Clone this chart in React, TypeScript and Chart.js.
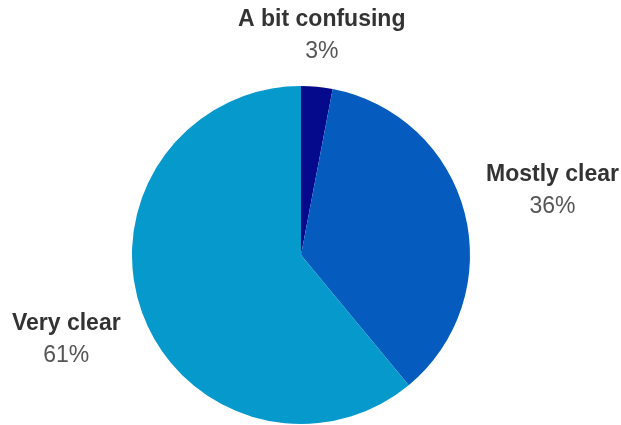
import React, { useEffect, useRef } from "react";
import { Chart, registerables } from "chart.js";

Chart.register(...registerables);

const labels = ["A bit confusing", "Mostly clear", "Very clear"];
const values = [3, 36, 61];
const colors = ["#050A8C", "#055CBE", "#0599CC"];

const labelFont = '"Liberation Sans", Arial, sans-serif';

const outsideLabels = {
  id: "outsideLabels",
  afterDraw(chart: any) {
    const ctx = chart.ctx;
    const meta = chart.getDatasetMeta(0);
    const data = chart.data.datasets[0].data as number[];
    const total = data.reduce((a, b) => a + b, 0);
    const gap = 19;
    const lineH = 31.5;
    meta.data.forEach((arc: any, i: number) => {
      const { x, y, startAngle, endAngle, outerRadius } = arc.getProps(
        ["x", "y", "startAngle", "endAngle", "outerRadius"],
        true
      );
      const mid = (startAngle + endAngle) / 2;
      const ux = Math.cos(mid);
      const uy = Math.sin(mid);
      const title = String(chart.data.labels[i]);
      const pct = Math.round((data[i] / total) * 100) + "%";
      ctx.save();
      ctx.font = "bold 23px " + labelFont;
      const w1 = ctx.measureText(title).width;
      ctx.font = "23px " + labelFont;
      const w2 = ctx.measureText(pct).width;
      const w = Math.max(w1, w2);
      const h = lineH * 2;
      const target = outerRadius + gap;
      const dist = (t: number) => {
        const cx = x + t * ux;
        const cy = y + t * uy;
        const dx = Math.max(Math.abs(cx - x) - w / 2, 0);
        const dy = Math.max(Math.abs(cy - y) - h / 2, 0);
        return Math.hypot(dx, dy);
      };
      let lo = 0;
      let hi = 2000;
      for (let k = 0; k < 60; k++) {
        const m = (lo + hi) / 2;
        if (dist(m) < target) lo = m;
        else hi = m;
      }
      const cx = x + lo * ux;
      const cy = y + lo * uy;
      ctx.textAlign = "center";
      ctx.textBaseline = "middle";
      ctx.fillStyle = "#333333";
      ctx.font = "bold 23px " + labelFont;
      ctx.fillText(title, cx, cy - lineH / 2);
      ctx.fillStyle = "#555555";
      ctx.font = "23px " + labelFont;
      ctx.fillText(pct, cx, cy + lineH / 2);
      ctx.restore();
    });
  },
};

export default function App() {
  const ref = useRef<HTMLCanvasElement>(null);
  useEffect(() => {
    document.body.style.margin = "0";
    const chart = new Chart(ref.current!, {
      type: "pie",
      data: {
        labels,
        datasets: [
          {
            data: values,
            backgroundColor: colors,
            borderWidth: 0,
          },
        ],
      },
      options: {
        animation: false,
        responsive: false,
        maintainAspectRatio: false,
        layout: { padding: { left: 132, right: 151, top: 86, bottom: 1 } },
        plugins: {
          legend: { display: false },
          tooltip: { enabled: false },
        },
      },
      plugins: [outsideLabels],
    });
    return () => chart.destroy();
  }, []);
  return (
    <div style={{ width: 621, height: 425 }}>
      <canvas ref={ref} width={621} height={425} style={{ display: "block" }} />
    </div>
  );
}
